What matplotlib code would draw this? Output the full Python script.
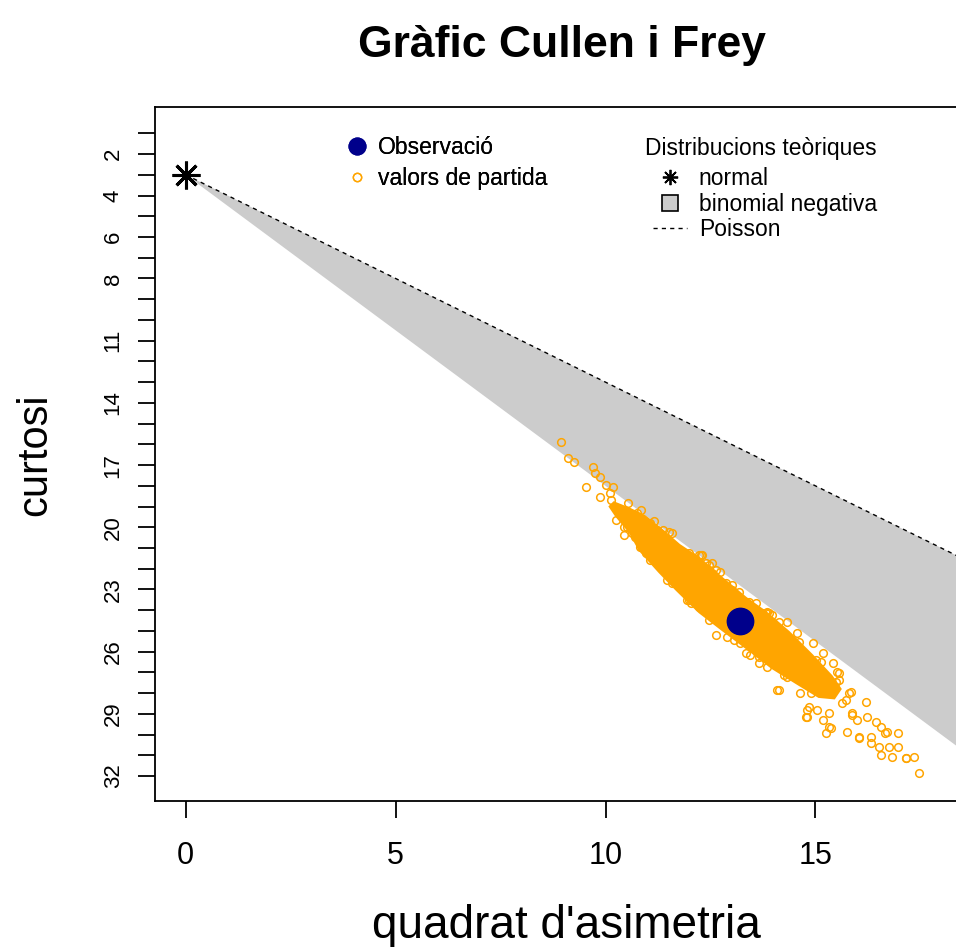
import matplotlib
matplotlib.use("Agg")
import matplotlib.pyplot as plt
from matplotlib.lines import Line2D

plt.rcParams['font.family'] = ['Liberation Sans', 'DejaVu Sans']

# --- data ---
obs_s2 = [13.20]
obs_kurt = [24.50]

normal_s2 = [0.0]
normal_kurt = [3.0]

poisson_s2 = [0.0, 19.04]
poisson_kurt = [3.0, 22.04]

negbin_s2 = [0.0, 19.04, 19.04]
negbin_kurt = [3.0, 22.04, 31.56]

# dense, fully overplotted part of the bootstrap cloud
core_s2 = [10.20, 10.57, 10.93, 11.35, 11.76, 12.23, 12.78, 13.35, 13.82, 14.37, 14.92, 15.39, 15.60,
           15.45, 15.08, 14.54, 13.97, 13.35, 12.78, 12.23, 11.69, 11.28, 10.81, 10.57, 10.25, 10.10]
core_kurt = [18.80, 19.10, 19.45, 20.13, 20.85, 21.48, 22.45, 23.41, 24.09, 25.05, 26.16, 27.18, 27.80,
             28.25, 28.18, 27.51, 26.79, 25.82, 24.95, 24.09, 23.02, 22.16, 21.10, 20.22, 19.45, 19.00]

# single bootstrap values around it
boot_s2 = [8.93, 9.10, 9.26, 9.70, 9.74, 9.86, 9.54, 10.00, 10.17, 9.86, 10.10, 10.14, 10.29, 10.53,
           10.85, 10.25, 10.45, 11.16, 10.85, 11.52, 11.59, 10.88,
           10.64, 11.05, 12.23, 12.40, 12.64, 11.59, 12.04, 12.23, 12.64, 13.11, 13.18, 10.81, 10.97,
           12.07, 12.28, 12.54, 12.87, 13.42, 13.82,
           13.35, 13.90, 14.13, 14.30, 14.44, 14.77, 15.01, 15.25, 15.37, 15.56, 15.72, 15.84, 15.87,
           16.03, 16.20, 16.22, 16.32, 16.51, 16.56, 16.67, 16.75, 16.82, 16.98, 16.98, 17.17, 17.34, 17.46,
           15.56, 15.80, 14.80, 14.80, 15.75, 16.03, 16.44, 16.70, 16.56, 17.15, 15.87, 15.99, 16.32,
           13.73, 13.97, 14.20, 14.49, 14.68, 15.51, 15.49, 13.66, 14.09, 14.85, 15.32, 15.32, 15.63,
           12.00, 12.47, 13.02, 13.59, 14.13, 14.61, 15.13,
           10.45, 11.05, 11.47, 12.00, 12.47, 13.06, 13.66, 14.25, 14.89,
           10.51, 10.70, 10.87, 11.13, 11.34, 11.94, 12.18, 12.42, 12.30, 12.53, 12.72, 13.01,
           12.89, 13.20, 13.44, 13.84, 14.32, 14.63, 15.04, 15.18,
           13.84, 14.32, 14.56, 14.94, 15.18, 15.41,
           10.58, 10.74, 11.06, 11.22, 11.36]
boot_kurt = [15.89, 16.67, 16.86, 17.07, 17.40, 17.56, 18.07, 17.96, 18.05, 18.52, 18.36, 18.68, 19.08, 18.84,
             19.17, 19.65, 19.97, 19.72, 20.13, 20.21, 20.27, 20.94,
             20.27, 21.20, 21.33, 21.72, 22.06, 22.69, 23.65, 23.85, 25.19, 23.50, 23.12, 20.95, 21.24,
             21.42, 21.33, 22.20, 22.69, 23.61, 24.14,
             26.07, 24.14, 27.84, 25.44, 25.58, 29.15, 26.40, 29.92, 29.68, 27.03, 28.33, 27.94, 28.96,
             30.11, 28.43, 29.16, 30.11, 30.60, 29.63, 29.92, 30.60, 31.07, 29.92, 30.60, 31.12, 31.07, 31.85,
             27.37, 27.99, 28.82, 29.15, 29.88, 30.17, 29.39, 29.88, 30.97, 31.12, 29.06, 29.30, 30.40,
             24.14, 24.24, 25.10, 25.78, 26.30, 26.98, 27.46, 26.55, 27.84, 28.67, 28.96, 29.63, 28.48,
             21.24, 21.82, 22.79, 23.65, 24.56, 25.53, 26.49,
             20.37, 21.57, 22.54, 23.50, 24.46, 25.44, 26.25, 27.12, 27.99,
             19.99, 20.47, 20.86, 20.71, 21.24, 23.51, 23.66, 23.90, 21.34, 21.73, 22.16, 23.03,
             25.30, 25.59, 26.17, 26.74, 27.23, 28.00, 28.82, 29.30,
             24.09, 24.57, 25.10, 25.59, 26.07, 26.55,
             19.51, 19.32, 19.80, 20.13, 20.13]

y_ticks = list(range(1, 33))
y_labelled = [2, 4, 6, 8, 11, 14, 17, 20, 23, 26, 29, 32]
x_ticks = [0, 5, 10, 15]


def main():
    fig = plt.figure(figsize=(9.56, 9.47), dpi=100)
    ax = fig.add_axes([0.1621, 0.1542, 0.8682, 0.7328])

    ax.fill(negbin_s2, negbin_kurt, color="#cccccc", lw=0, zorder=1)
    ax.plot(poisson_s2, poisson_kurt, color="black", lw=1, ls=(0, (3, 3)), zorder=2)
    ax.fill(core_s2, core_kurt, color="orange", lw=1.5, zorder=3)
    ax.plot(boot_s2, boot_kurt, ls="none", marker="o", ms=5.5, mfc="none", mec="orange", mew=1.1, zorder=3)
    ax.plot(obs_s2, obs_kurt, ls="none", marker="o", ms=19, color="#00008b", zorder=4)
    ax.plot(normal_s2, normal_kurt, ls="none", marker=(8, 2, 0), ms=20, mec="black", mew=2.2, zorder=5)

    ax.set_xlim(-0.733, 19.04)
    ax.set_ylim(33.2, -0.27)
    ax.set_xticks(x_ticks)
    ax.set_xticklabels([str(v) for v in x_ticks])
    ax.set_yticks(y_ticks)
    ax.set_yticklabels([str(v) if v in y_labelled else "" for v in y_ticks])
    ax.tick_params(axis="both", length=12.5, width=1.3)
    ax.tick_params(axis="x", labelsize=22, pad=16)
    ax.tick_params(axis="y", labelsize=16, pad=10, labelrotation=90)
    for lab in ax.get_yticklabels():
        lab.set_va("center")
    for sp in ax.spines.values():
        sp.set_linewidth(1.3)

    fig.text(562 / 956, 1 - 57 / 947, "Gràfic Cullen i Frey", fontsize=32, fontweight="bold",
             ha="center", va="baseline")
    fig.text(566 / 956, 1 - 938 / 947, "quadrat d'asimetria", fontsize=33, ha="center", va="baseline")
    fig.text(35 / 956, 1 - 455 / 947, "curtosi", fontsize=30, rotation=90, ha="center", va="center")

    h1 = [Line2D([], [], ls="none", marker="o", ms=12, color="#00008b"),
          Line2D([], [], ls="none", marker="o", ms=6, mfc="none", mec="orange", mew=1.0)]
    leg1 = fig.legend(h1, ["Observació", "valors de partida"], loc="upper left",
                      bbox_to_anchor=(346 / 956, 1 - 136 / 947), frameon=False, fontsize=16.5,
                      handlelength=1.0, handletextpad=0.4, labelspacing=0.35, borderpad=0, borderaxespad=0)

    fig.text(645 / 956, 1 - 155 / 947, "Distribucions teòriques", fontsize=16.5, ha="left", va="baseline")
    h2 = [Line2D([], [], ls="none", marker=(8, 2, 0), ms=11, mec="black", mew=1.3),
          Line2D([], [], ls="none", marker="s", ms=11, mfc="#cccccc", mec="black", mew=1.2),
          Line2D([], [], color="black", lw=1, ls=(0, (3, 3)))]
    leg2 = fig.legend(h2, ["normal", "binomial negativa", "Poisson"], loc="upper left",
                      bbox_to_anchor=(653 / 956, 1 - 167 / 947), frameon=False, fontsize=16.5,
                      handlelength=1.5, handletextpad=0.5, labelspacing=0.12,
                      borderpad=0, borderaxespad=0)
    fig.add_artist(leg1)

    fig.savefig("out.png", dpi=100)


if __name__ == '__main__':
    main()
